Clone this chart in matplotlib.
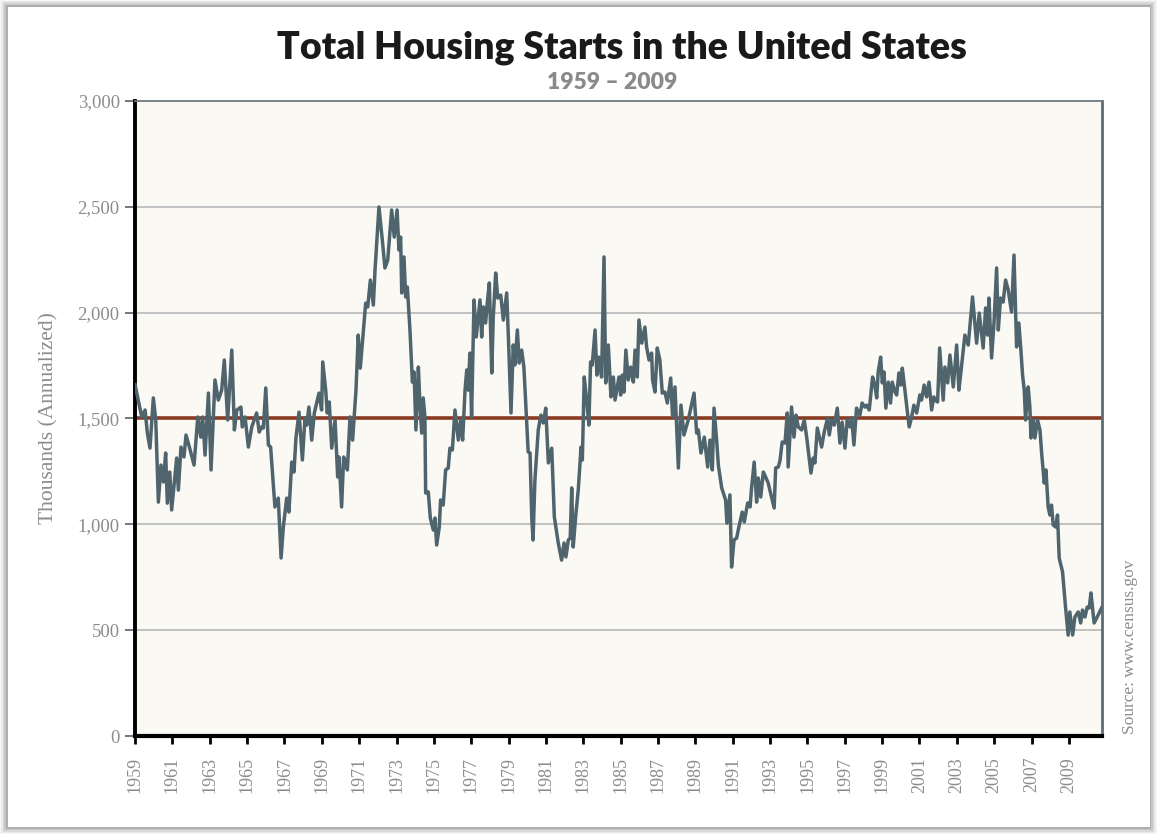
import matplotlib
matplotlib.use("Agg")
import matplotlib.pyplot as plt
from matplotlib.patches import Rectangle
from matplotlib.ticker import FuncFormatter

# decimal year, thousands of starts (annualized)
years = [1959.00, 1959.36, 1959.54, 1959.66, 1959.80, 1959.98, 1960.11, 1960.25, 1960.39, 1960.52,
         1960.64, 1960.73, 1960.86, 1960.96, 1961.23, 1961.32, 1961.46, 1961.62, 1961.73, 1961.91,
         1962.16, 1962.36, 1962.52, 1962.62, 1962.75, 1962.93, 1963.07, 1963.28, 1963.46, 1963.64,
         1963.78, 1963.96, 1964.18, 1964.32, 1964.45, 1964.67, 1964.74, 1964.89, 1965.07, 1965.25,
         1965.51, 1965.65, 1965.78, 1965.87, 1966.00, 1966.14, 1966.26, 1966.49, 1966.67, 1966.82,
         1966.94, 1967.12, 1967.24, 1967.39, 1967.51, 1967.62, 1967.78, 1967.96, 1968.10, 1968.19,
         1968.31, 1968.46, 1968.60, 1968.85, 1968.99, 1969.05, 1969.21, 1969.29, 1969.40, 1969.53,
         1969.71, 1969.85, 1969.92, 1970.06, 1970.17, 1970.28, 1970.37, 1970.51, 1970.65, 1970.83,
         1970.95, 1971.06, 1971.17, 1971.35, 1971.46, 1971.60, 1971.76, 1971.85, 1972.06, 1972.24,
         1972.38, 1972.53, 1972.74, 1972.88, 1973.03, 1973.13, 1973.22, 1973.28, 1973.40, 1973.49,
         1973.58, 1973.72, 1973.85, 1973.94, 1974.04, 1974.17, 1974.26, 1974.35, 1974.43, 1974.52,
         1974.56, 1974.70, 1974.81, 1974.97, 1975.06, 1975.15, 1975.29, 1975.36, 1975.50, 1975.63,
         1975.77, 1975.86, 1975.99, 1976.13, 1976.27, 1976.31, 1976.43, 1976.54, 1976.67, 1976.76,
         1976.84, 1976.93, 1977.02, 1977.15, 1977.27, 1977.38, 1977.47, 1977.56, 1977.65, 1977.77,
         1977.86, 1977.97, 1978.10, 1978.18, 1978.31, 1978.42, 1978.58, 1978.72, 1978.90, 1978.99,
         1979.13, 1979.25, 1979.34, 1979.47, 1979.57, 1979.70, 1979.82, 1979.92, 1980.05, 1980.15,
         1980.24, 1980.31, 1980.41, 1980.59, 1980.73, 1980.86, 1980.99, 1981.13, 1981.31, 1981.45,
         1981.66, 1981.84, 1981.97, 1982.07, 1982.20, 1982.30, 1982.38, 1982.46, 1982.59, 1982.73,
         1982.88, 1982.95, 1983.05, 1983.18, 1983.30, 1983.39, 1983.48, 1983.63, 1983.73, 1983.84,
         1983.98, 1984.11, 1984.20, 1984.34, 1984.48, 1984.61, 1984.70, 1984.91, 1985.00, 1985.09,
         1985.18, 1985.28, 1985.41, 1985.54, 1985.68, 1985.77, 1985.89, 1985.98, 1986.13, 1986.30,
         1986.39, 1986.52, 1986.66, 1986.71, 1986.84, 1986.96, 1987.10, 1987.23, 1987.37, 1987.50,
         1987.68, 1987.78, 1987.91, 1988.09, 1988.23, 1988.39, 1988.62, 1988.93, 1989.07, 1989.16,
         1989.30, 1989.48, 1989.66, 1989.78, 1989.91, 1990.00, 1990.14, 1990.23, 1990.41, 1990.62,
         1990.69, 1990.85, 1990.94, 1991.07, 1991.21, 1991.33, 1991.51, 1991.62, 1991.80, 1991.93,
         1992.01, 1992.15, 1992.28, 1992.37, 1992.50, 1992.64, 1992.76, 1992.90, 1993.08, 1993.22,
         1993.30, 1993.44, 1993.53, 1993.65, 1993.80, 1993.92, 1993.97, 1994.15, 1994.28, 1994.39,
         1994.51, 1994.69, 1994.83, 1994.96, 1995.19, 1995.31, 1995.40, 1995.53, 1995.76, 1995.90,
         1996.08, 1996.17, 1996.30, 1996.44, 1996.60, 1996.74, 1996.86, 1997.01, 1997.13, 1997.28,
         1997.37, 1997.49, 1997.63, 1997.81, 1997.93, 1998.08, 1998.17, 1998.31, 1998.49, 1998.61,
         1998.71, 1998.79, 1998.92, 1999.01, 1999.10, 1999.20, 1999.33, 1999.45, 1999.54, 1999.69,
         1999.78, 1999.90, 2000.01, 2000.08, 2000.22, 2000.34, 2000.45, 2000.58, 2000.70, 2000.85,
         2001.02, 2001.11, 2001.25, 2001.38, 2001.51, 2001.65, 2001.77, 2001.83, 2001.97, 2002.08,
         2002.27, 2002.36, 2002.51, 2002.63, 2002.81, 2002.99, 2003.11, 2003.22, 2003.43, 2003.61,
         2003.84, 2004.06, 2004.20, 2004.41, 2004.54, 2004.65, 2004.72, 2004.86, 2004.99, 2005.13,
         2005.22, 2005.34, 2005.48, 2005.61, 2005.75, 2005.93, 2006.06, 2006.20, 2006.32, 2006.43,
         2006.52, 2006.61, 2006.68, 2006.82, 2006.91, 2006.97, 2007.09, 2007.18, 2007.32, 2007.45,
         2007.54, 2007.68, 2007.77, 2007.89, 2007.98, 2008.07, 2008.16, 2008.30, 2008.39, 2008.48,
         2008.66, 2008.82, 2008.96, 2009.05, 2009.20, 2009.32, 2009.50, 2009.63, 2009.73, 2009.86,
         2009.98, 2010.09, 2010.18, 2010.35, 2010.57, 2010.75]
starts = [1660, 1507, 1540, 1431, 1360, 1597, 1493, 1105, 1280, 1200,
          1337, 1100, 1247, 1068, 1313, 1162, 1365, 1318, 1422, 1365,
          1280, 1507, 1412, 1507, 1327, 1620, 1257, 1682, 1587, 1634,
          1776, 1493, 1823, 1446, 1540, 1554, 1460, 1507, 1365, 1460,
          1526, 1436, 1460, 1455, 1644, 1375, 1365, 1082, 1124, 841,
          987, 1124, 1058, 1294, 1247, 1412, 1530, 1304, 1502, 1469,
          1554, 1398, 1526, 1620, 1540, 1767, 1634, 1526, 1578, 1360,
          1493, 1224, 1318, 1082, 1318, 1290, 1257, 1507, 1398, 1634,
          1894, 1738, 1856, 2045, 2027, 2154, 2036, 2201, 2499, 2343,
          2211, 2248, 2485, 2357, 2485, 2296, 2357, 2093, 2263, 2074,
          2121, 1918, 1672, 1720, 1446, 1743, 1554, 1431, 1597, 1507,
          1148, 1153, 1030, 973, 1030, 902, 987, 1115, 1091, 1257,
          1266, 1360, 1351, 1540, 1431, 1398, 1493, 1398, 1634, 1729,
          1634, 1809, 1507, 2060, 1885, 1979, 2060, 1885, 2027, 1951,
          2045, 2140, 1715, 1979, 2187, 2069, 2083, 1965, 2093, 1885,
          1526, 1847, 1753, 1918, 1762, 1823, 1743, 1573, 1342, 1337,
          1035, 926, 1209, 1446, 1516, 1479, 1549, 1290, 1360, 1035,
          912, 831, 912, 846, 926, 935, 1172, 893, 1035, 1162,
          1365, 1304, 1696, 1587, 1469, 1767, 1753, 1918, 1705, 1790,
          1696, 2263, 1668, 1847, 1602, 1696, 1587, 1696, 1611, 1705,
          1625, 1823, 1682, 1743, 1672, 1823, 1696, 1965, 1856, 1932,
          1838, 1776, 1809, 1682, 1625, 1833, 1776, 1620, 1625, 1573,
          1691, 1507, 1649, 1266, 1563, 1422, 1493, 1620, 1431, 1446,
          1337, 1412, 1271, 1398, 1257, 1549, 1398, 1280, 1172, 1115,
          1006, 1139, 798, 926, 935, 987, 1058, 1011, 1101, 1082,
          1172, 1294, 1105, 1219, 1129, 1247, 1224, 1195, 1129, 1077,
          1266, 1271, 1300, 1389, 1384, 1526, 1271, 1554, 1412, 1516,
          1460, 1446, 1493, 1412, 1242, 1313, 1290, 1455, 1365, 1436,
          1502, 1422, 1493, 1469, 1549, 1384, 1483, 1360, 1493, 1460,
          1502, 1375, 1549, 1516, 1573, 1554, 1563, 1540, 1696, 1658,
          1597, 1720, 1790, 1668, 1720, 1549, 1672, 1573, 1672, 1625,
          1611, 1715, 1658, 1738, 1634, 1540, 1460, 1507, 1563, 1526,
          1611, 1587, 1658, 1602, 1672, 1540, 1602, 1587, 1578, 1833,
          1587, 1743, 1668, 1800, 1649, 1847, 1634, 1720, 1894, 1847,
          2074, 1856, 1998, 1833, 2022, 1894, 2069, 1786, 1951, 2211,
          1918, 2069, 2050, 2154, 2107, 2003, 2272, 1838, 1951, 1823,
          1705, 1634, 1493, 1649, 1554, 1408, 1493, 1408, 1493, 1446,
          1337, 1195, 1257, 1082, 1044, 1091, 997, 987, 1044, 841,
          775, 609, 477, 586, 477, 562, 586, 534, 595, 562,
          609, 605, 676, 534, 572, 605]

tick_years = list(range(1959, 2010, 2))
y_ticks = [0, 500, 1000, 1500, 2000, 2500, 3000]
reference_level = 1500

serif = ['Liberation Serif', 'DejaVu Serif']
grey_txt = '#8c8c8c'

fig = plt.figure(figsize=(11.64, 8.4), dpi=100)
fig.patch.set_facecolor('white')

# card with a soft shadow, top and left heavier
for i, a in enumerate([0.03, 0.05, 0.07, 0.09, 0.11]):
    d = (5 - i) * 0.0012
    fig.patches.append(Rectangle((0.006 - d, 0.015 - d * 1.4), 0.982 + 2 * d, 0.977 + 2 * d * 1.4,
                                 transform=fig.transFigure, facecolor='black', alpha=a,
                                 edgecolor='none', zorder=-3))
fig.patches.append(Rectangle((0.007, 0.015), 0.981, 0.977, transform=fig.transFigure,
                             facecolor='white', edgecolor='none', zorder=-2))

ax = fig.add_axes([0.116, 0.1238, 0.8307, 0.756])
ax.set_zorder(1)
ax.set_facecolor('#faf9f4')

for y in y_ticks[1:-1]:
    ax.axhline(y, color='#bdbdbd', lw=1.3, zorder=1)
ax.axhline(reference_level, color='#8b3a22', lw=2.6, zorder=2)
ax.plot(years, starts, color='#4f646c', lw=2.5, zorder=3)

ax.set_xlim(1959, 2010.77)
ax.set_ylim(0, 3000)

ax.spines['left'].set_color('black')
ax.spines['left'].set_linewidth(2.8)
ax.spines['bottom'].set_color('black')
ax.spines['bottom'].set_linewidth(3)
ax.spines['top'].set_color('#6b7780')
ax.spines['top'].set_linewidth(1.3)
ax.spines['right'].set_color('#5c6b75')
ax.spines['right'].set_linewidth(2)

ax.set_yticks(y_ticks)
ax.yaxis.set_major_formatter(FuncFormatter(lambda v, p: f'{int(v):,}'))
ax.tick_params(axis='y', direction='out', length=7, width=1.4, color='#777777',
               labelcolor=grey_txt, labelsize=13.5, pad=4)
ax.set_xticks(tick_years)
ax.set_xticklabels([str(y) for y in tick_years], rotation=90)
ax.tick_params(axis='x', direction='out', length=6, width=2, color='black',
               labelcolor=grey_txt, labelsize=13, pad=9)
for lab in ax.get_xticklabels() + ax.get_yticklabels():
    lab.set_family(serif)

ax.set_ylabel('Thousands (Annualized)', family=serif, color=grey_txt, fontsize=15.5, labelpad=14)

fig.text(0.534, 0.943, 'Total Housing Starts in the United States', ha='center', va='center',
         family=['Lato', 'DejaVu Sans'], fontweight='heavy', fontsize=27, color='#1a1a1a')
fig.text(0.526, 0.902, '1959 \u2013 2009', ha='center', va='center',
         family=['Lato', 'DejaVu Sans'], fontweight='heavy', fontsize=16.5, color='#8a8a8a')
fig.text(0.971, 0.23, 'Source: www.census.gov', rotation=90, ha='center', va='center',
         family=serif, fontsize=12.5, color=grey_txt)

fig.savefig('out.png', dpi=100)
